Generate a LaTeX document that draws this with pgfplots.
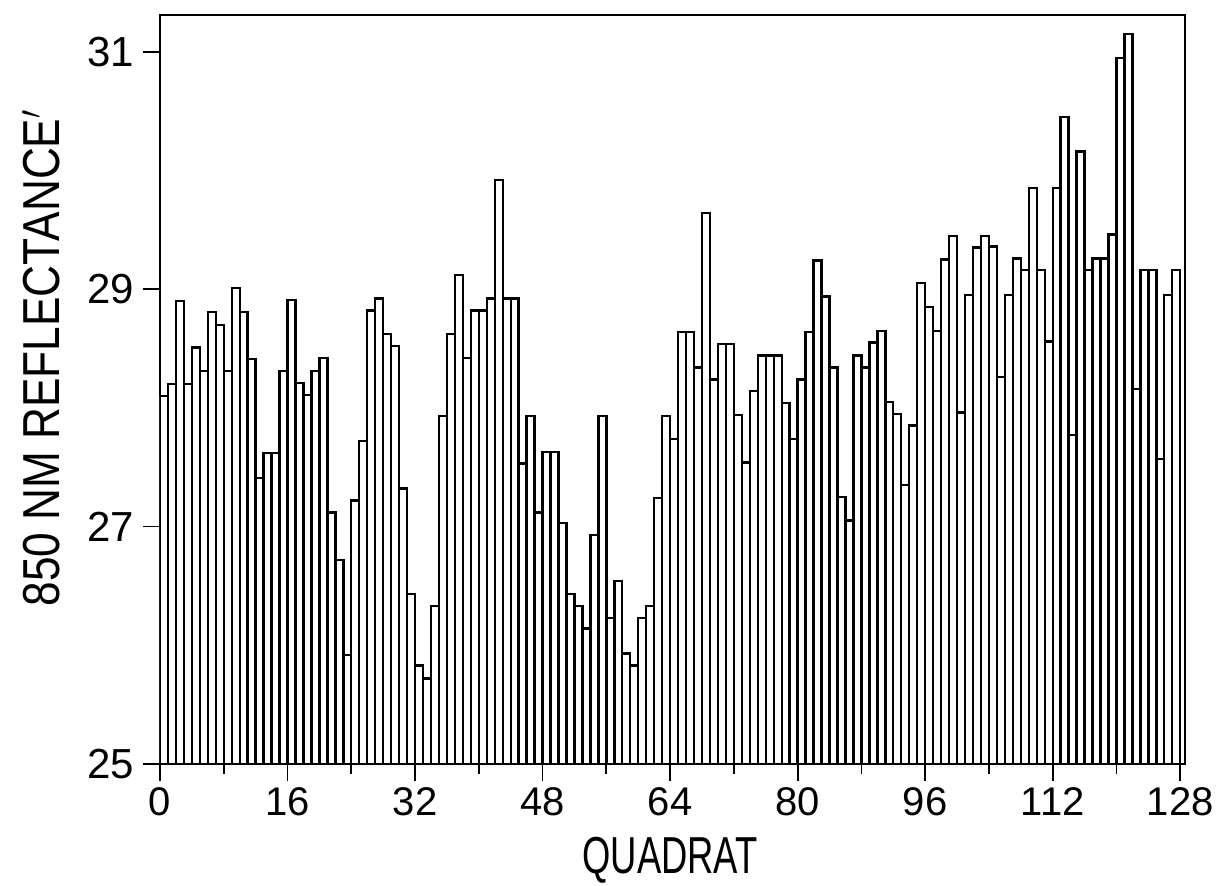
\documentclass[border=0pt]{standalone}
\usepackage{fontspec}
\setmainfont{Liberation Sans}
\usepackage{graphicx}
\usepackage{pgfplots}
\usepackage{pgfplotstable}
\pgfplotsset{compat=1.18}

% 850 nm reflectance per quadrat (bar i covers [i, i+1]; last row closes the interval)
\pgfplotstableread{
x y
0 28.10
1 28.20
2 28.90
3 28.20
4 28.51
5 28.31
6 28.81
7 28.70
8 28.31
9 29.01
10 28.81
11 28.41
12 27.41
13 27.62
14 27.62
15 28.31
16 28.91
17 28.21
18 28.11
19 28.31
20 28.42
21 27.12
22 26.72
23 25.92
24 27.22
25 27.72
26 28.82
27 28.92
28 28.62
29 28.52
30 27.32
31 26.43
32 25.83
33 25.72
34 26.33
35 27.93
36 28.62
37 29.12
38 28.42
39 28.82
40 28.82
41 28.92
42 29.92
43 28.92
44 28.92
45 27.53
46 27.93
47 27.12
48 27.63
49 27.63
50 27.03
51 26.43
52 26.33
53 26.14
54 26.93
55 27.93
56 26.23
57 26.54
58 25.93
59 25.83
60 26.23
61 26.33
62 27.24
63 27.93
64 27.74
65 28.64
66 28.64
67 28.34
68 29.64
69 28.24
70 28.54
71 28.54
72 27.94
73 27.54
74 28.14
75 28.44
76 28.44
77 28.44
78 28.04
79 27.74
80 28.24
81 28.64
82 29.24
83 28.94
84 28.34
85 27.25
86 27.05
87 28.44
88 28.34
89 28.55
90 28.65
91 28.05
92 27.95
93 27.35
94 27.85
95 29.05
96 28.85
97 28.65
98 29.25
99 29.45
100 27.96
101 28.95
102 29.35
103 29.45
104 29.36
105 28.26
106 28.95
107 29.26
108 29.16
109 29.85
110 29.16
111 28.56
112 29.85
113 30.45
114 27.77
115 30.16
116 29.16
117 29.26
118 29.26
119 29.46
120 30.95
121 31.15
122 28.16
123 29.16
124 29.16
125 27.57
126 28.95
127 29.16
128 29.16
}\reflectance

\begin{document}
\begin{tikzpicture}
\path[use as bounding box] (-80pt,-61pt) rectangle (529.5pt,382pt);
\begin{axis}[
  at={(0pt,0pt)}, anchor=south west,
  scale only axis,
  width=512.5pt, height=374.5pt,
  xmin=0, xmax=128.6,
  ymin=25, ymax=31.31,
  xtick={0,16,...,128},
  minor xtick={8,24,...,120},
  ytick={25,27,29,31},
  tick align=outside,
  xtick pos=bottom, ytick pos=left,
  major tick length=8.5pt,
  minor tick length=5pt,
  axis line style={line width=0.9pt},
  every tick/.style={black, line width=0.9pt},
  /pgf/number format/assume math mode=true,
  x tick label style={font=\fontsize{20}{24}\selectfont},
  y tick label style={font=\fontsize{21}{25}\selectfont, xshift=-1pt},
  xlabel={\scalebox{0.7}[1]{QUADRAT}},
  xlabel style={font=\fontsize{26}{30}\selectfont,
    at={(axis description cs:0.4976,-0.128)}, anchor=center},
  ylabel={\scalebox{0.85}[1]{850 NM REFLECTANCE$^{\prime}$}},
  ylabel style={font=\fontsize{26}{30}\selectfont,
    at={(axis description cs:-0.116,0.542)}, anchor=center, rotate=0},
]
\addplot[ybar interval, fill=white, draw=black, line width=1.2pt]
  table[x=x, y=y] {\reflectance};
\end{axis}
\end{tikzpicture}
\end{document}
